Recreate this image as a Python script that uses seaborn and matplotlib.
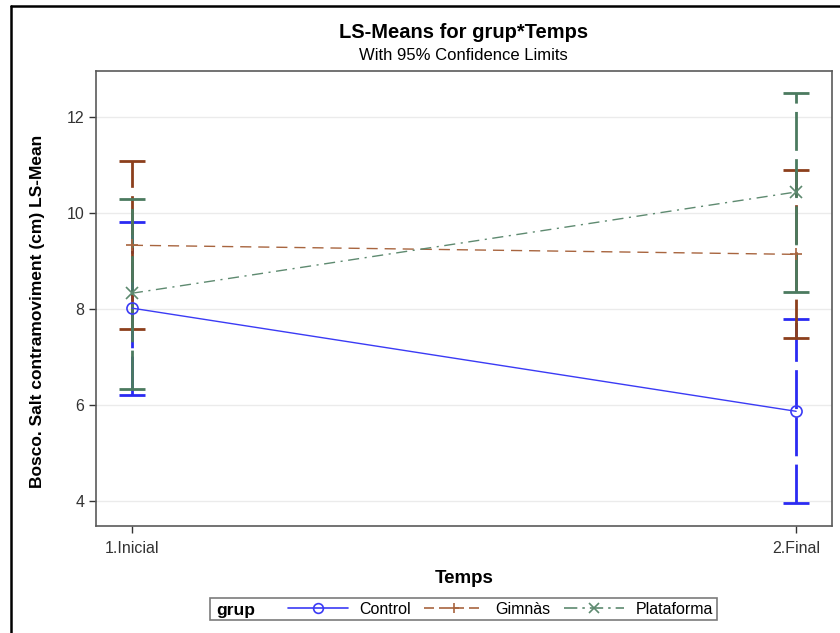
import numpy as np
import pandas as pd
import matplotlib
matplotlib.use("Agg")
import matplotlib.pyplot as plt
import seaborn as sns
from matplotlib.lines import Line2D
from matplotlib.offsetbox import DrawingArea

# ---- data ----
temps = ["1.Inicial", "2.Final"]
groups = ["Control", "Gimnàs", "Plataforma"]
control_mean = [8.02, 5.87]
control_lo = [6.22, 3.95]
control_hi = [9.82, 7.79]
gimnas_mean = [9.33, 9.14]
gimnas_lo = [7.58, 7.40]
gimnas_hi = [11.08, 10.90]
plataforma_mean = [8.33, 10.44]
plataforma_lo = [6.33, 8.36]
plataforma_hi = [10.30, 12.50]
yticks = [4, 6, 8, 10, 12]

means = {"Control": control_mean, "Gimnàs": gimnas_mean, "Plataforma": plataforma_mean}
los = {"Control": control_lo, "Gimnàs": gimnas_lo, "Plataforma": plataforma_lo}
his = {"Control": control_hi, "Gimnàs": gimnas_hi, "Plataforma": plataforma_hi}

rows = []
for g in groups:
    for i, t in enumerate(temps):
        rows.append({"grup": g, "pos": i, "Temps": t, "mean": means[g][i],
                     "lo": los[g][i], "hi": his[g][i]})
df = pd.DataFrame(rows)

sns.set_theme(style="white")
plt.rcParams["font.family"] = ["Liberation Sans", "DejaVu Sans"]
plt.rcParams["text.color"] = "black"
plt.rcParams["axes.labelcolor"] = "black"

line_colors = {"Control": "#3b3bf5", "Gimnàs": "#a8653f", "Plataforma": "#5e8a70"}
bar_colors = {"Control": "#2a2af2", "Gimnàs": "#8c3f1c", "Plataforma": "#4b7a5f"}
markers = {"Control": "o", "Gimnàs": "+", "Plataforma": "x"}
lstyles = {"Control": "-", "Gimnàs": (0, (8, 5)), "Plataforma": (0, (8, 4, 1.5, 4))}

fig = plt.figure(figsize=(8.4, 6.33), dpi=100)
ax = fig.add_axes([0.1143, 0.1690, 0.8762, 0.7188])

# error bars (confidence limits)
cap = 0.0196
for g in groups:
    sub = df[df.grup == g]
    ax.vlines(sub["pos"], sub["lo"], sub["hi"], colors=bar_colors[g], lw=2.0,
              linestyles=(0, (14, 3)), zorder=3)
    ax.hlines(sub["lo"], sub["pos"] - cap, sub["pos"] + cap, colors=bar_colors[g], lw=2.0, zorder=3)
    ax.hlines(sub["hi"], sub["pos"] - cap, sub["pos"] + cap, colors=bar_colors[g], lw=2.0, zorder=3)

# mean lines
for g in groups:
    sub = df[df.grup == g]
    sns.lineplot(data=sub, x="pos", y="mean", color=line_colors[g], lw=1.0,
                 linestyle=lstyles[g], marker=markers[g], markersize=8,
                 markerfacecolor="none", markeredgecolor=line_colors[g],
                 markeredgewidth=1.2, ax=ax, zorder=4)

ax.set_xlim(-0.054, 1.054)
ax.set_ylim(3.48, 12.96)
ax.set_xticks([0, 1])
ax.set_xticklabels(temps)
ax.set_yticks(yticks)
ax.set_yticklabels([str(v) for v in yticks])
ax.yaxis.grid(True, color="#ebebeb", lw=1.0)
ax.set_axisbelow(True)
for s in ax.spines.values():
    s.set_color("#5a5a5a")
    s.set_linewidth(1.2)
ax.tick_params(axis="both", which="both", length=5, width=1, color="#333333",
               labelsize=11.5, labelcolor="#333333", bottom=True, left=True)
ax.tick_params(axis="x", pad=6)
ax.set_xlabel("Temps", fontsize=13.5, fontweight="bold", labelpad=10)
ax.set_ylabel("Bosco. Salt contramoviment (cm) LS-Mean", fontsize=12.5, fontweight="bold")
ax.yaxis.set_label_coords(-0.069, 0.4725)

fig.text(0.552, 1 - 33 / 633, "LS-Means for grup*Temps", ha="center", va="center",
         fontsize=14.5, fontweight="bold")
fig.text(0.552, 1 - 55 / 633, "With 95% Confidence Limits", ha="center", va="center", fontsize=12)

# legend
handles = []
for g in groups:
    handles.append(Line2D([0], [0], color=line_colors[g], lw=1.2,
                          linestyle="-" if g == "Control" else ((0, (6, 3)) if g == "Gimnàs" else (0, (8, 3, 1.5, 3))),
                          marker=markers[g], markersize=7, markerfacecolor="none",
                          markeredgecolor=line_colors[g], markeredgewidth=1.2))
legend_y = 1 - 609 / 633
leg = fig.legend(handles, groups, loc="center", bbox_to_anchor=(463.5 / 840, legend_y), ncol=3,
                 fontsize=11.5, handlelength=3.75, handletextpad=0.7,
                 columnspacing=0.75, frameon=True, fancybox=False, edgecolor="#5a5a5a",
                 borderpad=0.25)
leg.get_frame().set_linewidth(1.2)
# reserve room on the left of the entries for the "grup" title
box = leg.get_children()[0]
hbox = box.get_children()[1]
hbox._children = [DrawingArea(43, 1)] + hbox.get_children()
hbox.sep = 10
hbox.align = "center"

fig.canvas.draw()
bb = leg.get_window_extent()
fig.text((bb.x0 + 6) / fig.bbox.width, ((bb.y0 + bb.y1) / 2 - 2) / fig.bbox.height, "grup",
         ha="left", va="center", fontsize=12.5, fontweight="bold", zorder=10)

# outer border (partial frame)
fig.add_artist(Line2D([11 / 840, 11 / 840], [0, 1 - 6 / 633], transform=fig.transFigure,
                      color="black", lw=1.8))
fig.add_artist(Line2D([11 / 840, 1], [1 - 6 / 633, 1 - 6 / 633], transform=fig.transFigure,
                      color="black", lw=1.8))

fig.savefig("out.png", dpi=100)
